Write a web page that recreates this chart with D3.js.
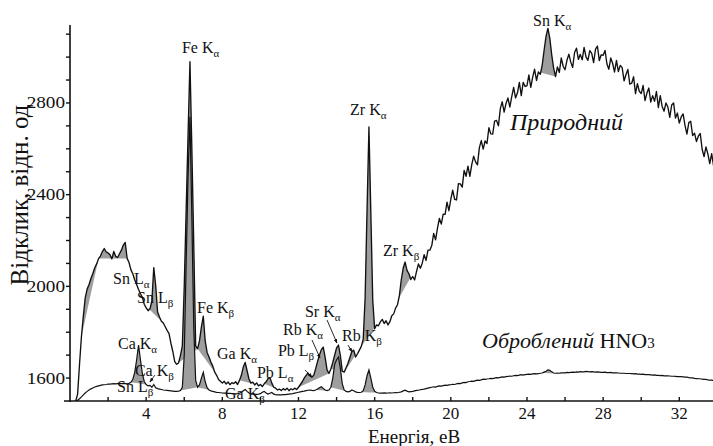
<!DOCTYPE html>
<html>
<head>
<meta charset="utf-8">
<script src="https://cdn.jsdelivr.net/npm/d3@7"></script>
<style>
  html, body { margin: 0; padding: 0; background: #fff; }
  svg { display: block; }
</style>
</head>
<body>
<svg id="chart" width="713" height="446"></svg>
<script>
// XRF spectra: energy grid (eV) sampled every 0.1 starting at 0.3
const energyStart = 0.3;
const energyStep = 0.1;

// Natural sample response
const naturalCounts = [
  1500, 1530, 1660, 1780, 1870, 1950, 1988,
  2008, 2034, 2056, 2081, 2098, 2121, 2132, 2152, 2165, 2150,
  2146, 2138, 2120, 2152, 2131, 2126, 2142, 2158, 2180, 2192,
  2122, 2104, 2072, 2055, 2028, 2008, 1986, 1968, 1952, 1922,
  1906, 1894, 1902, 1935, 2082, 2005, 1888, 1866, 1848, 1840,
  1824, 1808, 1794, 1752, 1716, 1672, 1660, 1666, 1698, 1740,
  2000, 2330, 2660, 2980, 2600, 2180, 1740, 1728, 1762, 1822,
  1870, 1762, 1712, 1692, 1670, 1652, 1626, 1612, 1594, 1586,
  1578, 1586, 1574, 1583, 1571, 1580, 1576, 1584, 1572, 1590,
  1612, 1648, 1668, 1632, 1596, 1578, 1582, 1570, 1579, 1566,
  1572, 1563, 1575, 1584, 1598, 1602, 1578, 1560, 1556, 1548,
  1552, 1546, 1554, 1548, 1556, 1545, 1553, 1549, 1556, 1550,
  1560, 1572, 1584, 1600, 1612, 1622, 1610, 1604, 1612, 1640,
  1672, 1700, 1724, 1735, 1690, 1636, 1620, 1640, 1668, 1700,
  1732, 1744, 1698, 1630, 1626, 1645, 1665, 1690, 1715, 1722,
  1692, 1706, 1722, 1738, 1770, 1950, 2330, 2695, 2320, 1940,
  1815, 1832, 1828, 1845, 1856, 1838, 1850, 1832, 1846, 1872,
  1880, 1905, 1920, 1960, 2030, 2080, 2106, 2070, 2055, 2030,
  2043, 2028, 2065, 2098, 2079, 2101, 2138, 2113, 2158, 2158,
  2178, 2231, 2203, 2254, 2296, 2272, 2315, 2314, 2367, 2330,
  2380, 2420, 2380, 2377, 2448, 2447, 2433, 2506, 2480, 2524,
  2480, 2531, 2568, 2543, 2530, 2605, 2636, 2599, 2634, 2623,
  2692, 2665, 2664, 2721, 2724, 2700, 2775, 2805, 2760, 2798,
  2822, 2782, 2828, 2868, 2822, 2844, 2890, 2832, 2890, 2872,
  2875, 2922, 2868, 2913, 2947, 2898, 2935, 2925, 2965, 3030,
  3090, 3125, 3082, 3010, 2952, 2915, 2957, 2933, 2996, 2960,
  2945, 2986, 3013, 2978, 2955, 3020, 3039, 2990, 3012, 2988,
  3042, 3001, 2986, 3028, 3016, 2976, 3035, 3048, 2985, 3010,
  3008, 3029, 2970, 2947, 2996, 2972, 2935, 2986, 2937, 2964,
  2954, 2896, 2924, 2946, 2882, 2886, 2914, 2841, 2884, 2851,
  2841, 2876, 2810, 2843, 2865, 2804, 2832, 2807, 2850, 2780,
  2832, 2785, 2764, 2800, 2782, 2737, 2791, 2800, 2734, 2756,
  2712, 2739, 2752, 2702, 2664, 2714, 2720, 2658, 2668, 2632,
  2655, 2667, 2598, 2566, 2608, 2578, 2535, 2579, 2525
];

// Sample treated with HNO3
const treatedCounts = [
  1500, 1503, 1510, 1518, 1527, 1535, 1542,
  1548, 1553, 1557, 1561, 1564, 1566, 1568, 1570, 1571, 1572,
  1574, 1574, 1575, 1576, 1575, 1576, 1577, 1576, 1577, 1576,
  1575, 1577, 1582, 1595, 1625, 1680, 1744, 1680, 1620, 1585,
  1572, 1566, 1568, 1560, 1572, 1558, 1554, 1552, 1550, 1548,
  1547, 1546, 1545, 1544, 1543, 1542, 1542, 1543, 1546, 1560,
  1700, 2100, 2480, 2740, 2300, 1820, 1590, 1560, 1570, 1600,
  1625, 1585, 1558, 1548, 1544, 1542, 1540, 1538, 1537, 1536,
  1535, 1534, 1534, 1533, 1533, 1532, 1532, 1531, 1532, 1534,
  1538, 1545, 1550, 1542, 1535, 1531, 1530, 1529, 1529, 1530,
  1532, 1538, 1542, 1535, 1530, 1534, 1537, 1530, 1528, 1527,
  1527, 1527, 1528, 1528, 1529, 1530, 1531, 1532, 1534, 1536,
  1538, 1540, 1542, 1543, 1545, 1547, 1548, 1546, 1545, 1548,
  1552, 1558, 1562, 1555, 1548, 1545, 1548, 1560, 1600, 1660,
  1680, 1692, 1640, 1575, 1548, 1542, 1540, 1542, 1548, 1545,
  1540, 1538, 1537, 1538, 1545, 1570, 1610, 1635, 1600, 1560,
  1542, 1537, 1535, 1534, 1534, 1535, 1534, 1535, 1536, 1535,
  1536, 1537, 1536, 1538, 1540, 1544, 1547, 1543, 1540, 1541,
  1542, 1544, 1546, 1547, 1549, 1551, 1552, 1554, 1556, 1558,
  1560, 1562, 1561, 1564, 1566, 1565, 1567, 1569, 1568, 1570,
  1571, 1573, 1572, 1575, 1577, 1576, 1579, 1581, 1580, 1584,
  1585, 1587, 1586, 1589, 1591, 1590, 1592, 1595, 1594, 1596,
  1597, 1599, 1598, 1600, 1602, 1601, 1603, 1605, 1604, 1606,
  1607, 1609, 1608, 1610, 1612, 1611, 1613, 1615, 1613, 1615,
  1616, 1617, 1616, 1618, 1619, 1618, 1619, 1621, 1622, 1626,
  1630, 1636, 1634, 1627, 1622, 1621, 1622, 1621, 1623, 1623,
  1623, 1625, 1624, 1625, 1626, 1625, 1627, 1626, 1628, 1627,
  1627, 1629, 1628, 1627, 1628, 1627, 1626, 1627, 1626, 1625,
  1625, 1626, 1624, 1624, 1625, 1623, 1623, 1623, 1622, 1621,
  1621, 1621, 1620, 1620, 1620, 1619, 1618, 1619, 1617, 1617,
  1616, 1617, 1615, 1615, 1615, 1614, 1613, 1614, 1612, 1612,
  1611, 1612, 1610, 1610, 1610, 1609, 1608, 1608, 1607, 1606,
  1606, 1606, 1605, 1604, 1604, 1602, 1601, 1601, 1599, 1598,
  1597, 1597, 1595, 1594, 1594, 1592, 1591, 1591, 1589
];

// Peak windows (eV) shaded between the curve and the chord joining the window ends
const naturalPeakWindows = [
  [0.6, 1.5], [1.5, 3.0], [3.9, 4.9], [5.7, 6.7], [6.7, 7.6], [8.9, 9.5],
  [10.2, 10.8], [12.0, 13.6], [13.7, 14.4], [14.4, 15.3], [15.3, 16.1],
  [16.5, 18.3], [24.6, 25.5]
];
const treatedPeakWindows = [
  [3.2, 4.0], [5.8, 6.7], [6.7, 7.3], [12.9, 13.5], [13.7, 14.5],
  [15.3, 16.1], [24.8, 25.5]
];

// Line labels: element, line, subscript, energy of left edge, counts at baseline
const peakLabels = [
  ["Fe", "K", "α", 5.88, 3018],
  ["Zr", "K", "α", 14.71, 2748],
  ["Sn", "K", "α", 24.32, 3136],
  ["Zr", "K", "β", 16.44, 2133],
  ["Fe", "K", "β", 6.67, 1884],
  ["Sn", "L", "α", 2.26, 2010],
  ["Sn", "L", "β", 3.52, 1928],
  ["Ca", "K", "α", 2.52, 1727],
  ["Ca", "K", "β", 3.41, 1609],
  ["Sn", "L", "β", 2.47, 1539],
  ["Ga", "K", "α", 7.72, 1683],
  ["Pb", "L", "α", 9.82, 1600],
  ["Pb", "L", "β", 10.92, 1696],
  ["Rb", "K", "α", 11.19, 1788],
  ["Sr", "K", "α", 12.34, 1866],
  ["Rb", "K", "β", 14.29, 1762],
  ["Ga", "K", "β", 8.14, 1509]
];

// Pointer arrows: [tail energy, tail counts, head energy, head counts]
const labelArrows = [
  [4.46, 1613, 4.20, 1583],
  [12.34, 1635, 12.71, 1605],
  [12.71, 1766, 13.13, 1688],
  [13.50, 1853, 14.02, 1753],
  [14.60, 1744, 14.81, 1714]
];

const xMajorTicks = [4, 8, 12, 16, 20, 24, 28, 32];
const xMinorTicks = [2, 6, 10, 14, 18, 22, 26, 30];
const yMajorTicks = [1600, 2000, 2400, 2800];
const yMinorTicks = [1700, 1800, 1900, 2100, 2200, 2300, 2500, 2600, 2700, 2900, 3000, 3100];

const serif = "'Liberation Serif', 'Times New Roman', 'DejaVu Serif', serif";
const svg = d3.select("#chart").attr("font-family", serif);
const x = d3.scaleLinear().domain([0, 33.77]).range([70, 713]);
const y = d3.scaleLinear().domain([1500, 3140]).range([401, 25]);

const toPoints = counts => counts.map((v, i) => ({ e: energyStart + i * energyStep, v }));
const natural = toPoints(naturalCounts);
const treated = toPoints(treatedCounts);

const defs = svg.append("defs");
defs.append("clipPath").attr("id", "plot-clip")
  .append("rect").attr("x", 70).attr("y", 0).attr("width", 643).attr("height", 401);
defs.append("marker")
  .attr("id", "arrowhead").attr("viewBox", "0 0 10 10")
  .attr("refX", 9).attr("refY", 5)
  .attr("markerWidth", 5).attr("markerHeight", 5)
  .attr("orient", "auto")
  .append("path").attr("d", "M0,1 L10,5 L0,9 Z").attr("fill", "#111");

const plot = svg.append("g").attr("clip-path", "url(#plot-clip)");

// shaded peaks
function peakShade(points, win) {
  const i0 = Math.round((win[0] - energyStart) / energyStep);
  const i1 = Math.round((win[1] - energyStart) / energyStep);
  const a = points[i0].v, b = points[i1].v;
  const seg = d3.range(i0, i1 + 1).map(i => {
    const base = a + (b - a) * (i - i0) / (i1 - i0);
    return { e: points[i].e, base, top: Math.max(points[i].v, base) };
  });
  return d3.area().x(d => x(d.e)).y0(d => y(d.base)).y1(d => y(d.top))(seg);
}

const shadeColor = "#9e9e9e";
naturalPeakWindows.forEach(w => {
  plot.append("path").attr("d", peakShade(natural, w)).attr("fill", shadeColor);
});
treatedPeakWindows.forEach(w => {
  plot.append("path").attr("d", peakShade(treated, w)).attr("fill", shadeColor);
});

const line = d3.line().x(d => x(d.e)).y(d => y(d.v));
plot.append("path").datum(treated).attr("d", line)
  .attr("fill", "none").attr("stroke", "#111").attr("stroke-width", 1.2);
plot.append("path").datum(natural).attr("d", line)
  .attr("fill", "none").attr("stroke", "#111").attr("stroke-width", 1.35)
  .attr("stroke-linejoin", "round");

// axes
const axisColor = "#111";
svg.append("line").attr("x1", 64).attr("x2", 713).attr("y1", y(1500)).attr("y2", y(1500))
  .attr("stroke", axisColor).attr("stroke-width", 1.6);
svg.append("line").attr("x1", x(0)).attr("x2", x(0)).attr("y1", y(1500) + 1).attr("y2", 25)
  .attr("stroke", axisColor).attr("stroke-width", 1.6);

xMajorTicks.concat(xMinorTicks).forEach(t => {
  svg.append("line").attr("x1", x(t)).attr("x2", x(t))
    .attr("y1", y(1500)).attr("y2", y(1500) - 4)
    .attr("stroke", axisColor).attr("stroke-width", 1.4);
});
xMajorTicks.forEach(t => {
  svg.append("text").attr("x", x(t)).attr("y", 419)
    .attr("text-anchor", "middle").attr("font-size", 17).attr("fill", "#111")
    .text(t);
});

yMajorTicks.concat(yMinorTicks).forEach(t => {
  svg.append("line").attr("x1", x(0) - 4).attr("x2", x(0))
    .attr("y1", y(t)).attr("y2", y(t))
    .attr("stroke", axisColor).attr("stroke-width", 1.4);
});
yMajorTicks.forEach(t => {
  svg.append("text")
    .attr("transform", `translate(${x(0) - 5},${y(t) + 5.5}) scale(1.2,1)`)
    .attr("text-anchor", "end").attr("font-size", 16).attr("fill", "#111")
    .text(t);
});

svg.append("text")
  .attr("x", 414).attr("y", 443).attr("text-anchor", "middle")
  .attr("font-size", 19).attr("fill", "#111")
  .text("Енергія, еВ");

svg.append("text")
  .attr("transform", "translate(28,195) rotate(-90)")
  .attr("text-anchor", "middle").attr("font-size", 25).attr("fill", "#111")
  .text("Відклик, відн. од");

// peak labels
peakLabels.forEach(([el, ln, sub, e, v]) => {
  const t = svg.append("text").attr("x", x(e)).attr("y", y(v))
    .attr("font-size", 16).attr("fill", "#111");
  t.append("tspan").text(el + " " + ln);
  t.append("tspan").attr("font-size", 11).attr("dy", 4).text(sub);
});

labelArrows.forEach(([e1, v1, e2, v2]) => {
  svg.append("line")
    .attr("x1", x(e1)).attr("y1", y(v1)).attr("x2", x(e2)).attr("y2", y(v2))
    .attr("stroke", "#111").attr("stroke-width", 0.9)
    .attr("marker-end", "url(#arrowhead)");
});

// series names
svg.append("text").attr("x", x(23.11)).attr("y", y(2682))
  .attr("font-size", 24).attr("font-style", "italic").attr("fill", "#111")
  .text("Природний");

const treatedName = svg.append("text").attr("x", x(21.64)).attr("y", y(1731))
  .attr("font-size", 22).attr("fill", "#111");
treatedName.append("tspan").attr("font-style", "italic").text("Оброблений");
treatedName.append("tspan").text(" HNO");
treatedName.append("tspan").attr("font-size", 15).text("3");
</script>
</body>
</html>
